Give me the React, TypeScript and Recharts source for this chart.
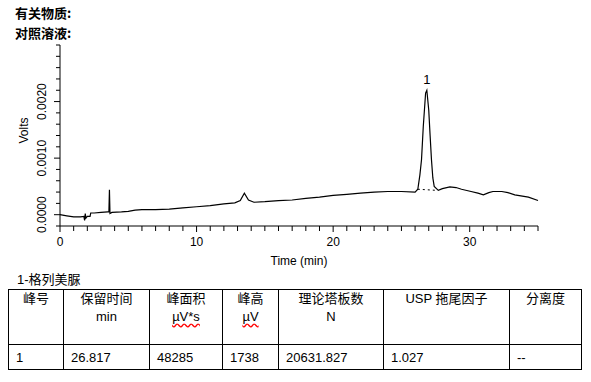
import { LineChart, Line, XAxis, YAxis, ReferenceDot, ReferenceLine } from 'recharts';

// chromatogram trace (time in min, signal in volts)
const times = [
  0, 0.5, 1.0, 1.5, 1.75, 1.8, 1.85, 1.9, 2.0, 2.2, 2.25, 2.5, 3.0, 3.5, 3.58, 3.62, 3.66, 3.8,
  4.5, 5.0, 5.5, 6.0, 7.0, 8.0, 9.0, 10.0, 11.0, 12.0, 12.8, 13.2, 13.5, 13.8, 14.2, 15.0,
  16.0, 17.0, 18.0, 19.0, 20.0, 21.0, 22.0, 23.0, 24.0, 25.0, 26.0, 26.2, 26.35, 26.47, 26.6,
  26.77, 26.86, 27.0, 27.1, 27.2, 27.3, 27.4, 27.7, 28.0, 28.55, 29.0, 29.4, 30.1, 30.6, 31.0,
  31.4, 31.7, 32.35, 32.8, 33.3, 34.3, 35.0,
];
const volts = [
  0.0, -0.00002, -0.00004, -0.00004, -0.00003, -0.0001, 0.00002, -0.00006, -0.00003, -0.00003, 0.00003, 0.00003, 0.00004, 0.00005, 0.00005, 0.00044, 0.00002, 0.00004,
  0.00005, 0.00006, 0.00008, 0.00009, 0.00009, 0.0001, 0.00012, 0.00014, 0.00016, 0.00019, 0.00021, 0.00025, 0.00038, 0.00026, 0.00022, 0.00023,
  0.00025, 0.00026, 0.00029, 0.00031, 0.00034, 0.00036, 0.00038, 0.0004, 0.00041, 0.00041, 0.0004, 0.00045, 0.0007, 0.00097, 0.00156,
  0.00215, 0.0022, 0.00185, 0.0014, 0.00097, 0.00065, 0.0005, 0.00043, 0.00046, 0.00049, 0.00048, 0.00045, 0.00041, 0.00038, 0.00035,
  0.00039, 0.00041, 0.00041, 0.00039, 0.00035, 0.00031, 0.00025,
];

const peakNames = ['1'];
const peakTimes = [26.86];
const peakVolts = [0.0022];
const peakBaseTimes = [26.2, 27.6];
const peakBaseVolts = [0.00045, 0.00043];

const xTicks = Array.from({ length: 36 }, (_, i) => i);
const xLabels = [0, 10, 20, 30];
const yTicks = [-0.0002, 0, 0.0002, 0.0004, 0.0006, 0.0008, 0.001, 0.0012, 0.0014, 0.0016, 0.0018, 0.002, 0.0022, 0.0024, 0.0026, 0.0028, 0.003];
const yLabels = [0, 0.001, 0.002];

// results table
const tableTitle = '1-格列美脲';
const headers = [['峰号'], ['保留时间', 'min'], ['峰面积', 'µV*s'], ['峰高', 'µV'], ['理论塔板数', 'N'], ['USP 拖尾因子'], ['分离度']];
const rowValues = ['1', '26.817', '48285', '1738', '20631.827', '1.027', '--'];
const colWidths = [55, 86, 73, 56, 105, 126, 72];

const data = times.map((t, i) => ({ t, v: volts[i] }));

const font = '"Liberation Sans", Arial, "Noto Sans CJK SC", sans-serif';

const isIn = (list: number[], v: number) => list.some(l => Math.abs(l - v) < 1e-9);

const XTick = (props: any) => {
  const { x, y, payload } = props;
  const major = isIn(xLabels, payload.value);
  return (
    <g>
      <line x1={x} x2={x} y1={y} y2={y + (major ? 6 : 5)} stroke="#000" />
      {major && (
        <text x={x} y={y + 16} textAnchor="middle" dominantBaseline="central" fontSize={12} fontFamily={font} fill="#000">
          {payload.value}
        </text>
      )}
    </g>
  );
};

const YTick = (props: any) => {
  const { x, y, payload } = props;
  const major = isIn(yLabels, payload.value);
  return (
    <g>
      <line x1={x - (major ? 6 : 4)} x2={x} y1={y} y2={y} stroke="#000" />
      {major && (
        <text x={x - 18} y={y} transform={`rotate(-90, ${x - 18}, ${y})`} textAnchor="middle" dominantBaseline="central" fontSize={12} fontFamily={font} fill="#000">
          {payload.value.toFixed(4)}
        </text>
      )}
    </g>
  );
};

export default function App() {
  return (
    <div style={{ position: 'absolute', left: 0, top: 0, width: 591, height: 382, background: '#fff', fontFamily: font, color: '#000' }}>
      <div style={{ position: 'absolute', left: 15, top: 3, fontSize: 13, lineHeight: '19px', fontWeight: 'bold', fontFamily: '"Noto Sans CJK SC", sans-serif' }}>有关物质:</div>
      <div style={{ position: 'absolute', left: 15, top: 23, fontSize: 13, lineHeight: '19px', fontWeight: 'bold', fontFamily: '"Noto Sans CJK SC", sans-serif' }}>对照溶液:</div>

      <div style={{ position: 'absolute', left: 0, top: 0 }}>
        <LineChart width={591} height={270} data={data} margin={{ top: 45, right: 53, left: 0, bottom: 0 }}>
          <XAxis
            dataKey="t"
            type="number"
            domain={[0, 35]}
            ticks={xTicks}
            interval={0}
            tickSize={0}
            tickMargin={0}
            tickLine={false}
            tick={<XTick />}
            height={44}
            axisLine={{ stroke: '#000' }}
            label={{ value: 'Time (min)', position: 'insideBottom', offset: 5, fontSize: 12, fill: '#000', fontFamily: font }}
          />
          <YAxis
            type="number"
            domain={[-0.0002, 0.003]}
            allowDataOverflow
            ticks={yTicks}
            interval={0}
            tickSize={0}
            tickMargin={0}
            tickLine={false}
            tick={<YTick />}
            width={60}
            axisLine={{ stroke: '#000' }}
            label={{
              content: ({ viewBox }: any) => (
                <text x={viewBox.x + 24} y={viewBox.y + viewBox.height / 2 - 5} transform={`rotate(-90, ${viewBox.x + 24}, ${viewBox.y + viewBox.height / 2 - 5})`} textAnchor="middle" dominantBaseline="central" fontSize={12} fontFamily={font} fill="#000">
                  Volts
                </text>
              ),
            }}
          />
          <ReferenceLine
            segment={[{ x: peakBaseTimes[0], y: peakBaseVolts[0] }, { x: peakBaseTimes[1], y: peakBaseVolts[1] }]}
            stroke="#000"
            strokeDasharray="2 3"
          />
          <Line type="linear" dataKey="v" stroke="#000" strokeWidth={1.2} dot={false} isAnimationActive={false} />
          {peakNames.map((n, i) => (
            <ReferenceDot key={n} x={peakTimes[i]} y={peakVolts[i]} r={0} stroke="none" label={{ value: n, position: 'top', offset: 6, fontSize: 13, fill: '#000', fontFamily: font }} />
          ))}
        </LineChart>
      </div>

      <div style={{ position: 'absolute', left: 17, top: 269, fontSize: 13 }}>{tableTitle}</div>
      <table style={{ position: 'absolute', left: 8, top: 289, borderCollapse: 'collapse', tableLayout: 'fixed', width: 573, fontSize: 13, fontFamily: font }}>
        <colgroup>
          {colWidths.map((w, i) => <col key={i} style={{ width: w }} />)}
        </colgroup>
        <tbody>
          <tr style={{ height: 55 }}>
            {headers.map((h, i) => (
              <td key={i} style={{ border: '1px solid #000', verticalAlign: 'top', textAlign: 'center', padding: 0, lineHeight: '18px' }}>
                {h.map((line, j) => (
                  <div key={j} style={j > 0 && line.startsWith('µ') ? { textDecoration: 'underline wavy red', textUnderlineOffset: 2 } : undefined}>
                    {line}
                  </div>
                ))}
              </td>
            ))}
          </tr>
          <tr style={{ height: 25 }}>
            {rowValues.map((v, i) => (
              <td key={i} style={{ border: '1px solid #000', padding: '0 0 0 7px', verticalAlign: 'middle' }}>{v}</td>
            ))}
          </tr>
        </tbody>
      </table>
    </div>
  );
}
